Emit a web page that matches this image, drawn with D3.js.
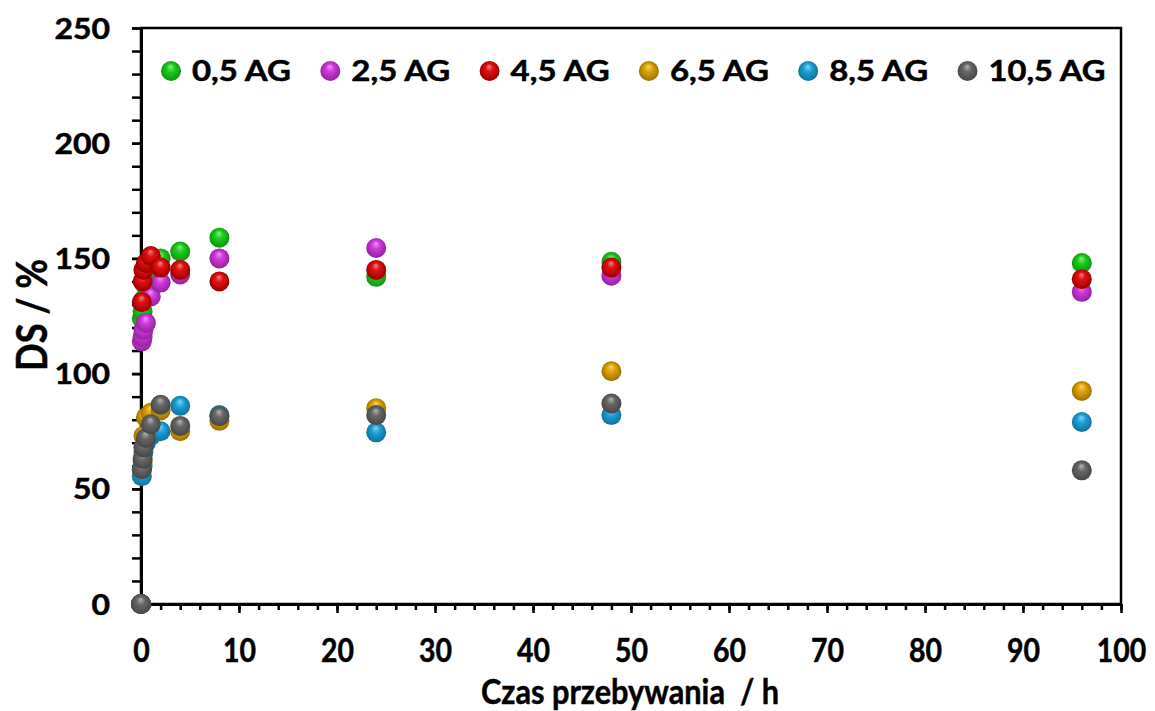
<!DOCTYPE html>
<html>
<head>
<meta charset="utf-8">
<script src="https://cdn.jsdelivr.net/npm/d3@7"></script>
<style>
  body { margin: 0; background: #fff; }
  svg { display: block; }
  text { font-family: Lato, "Open Sans", sans-serif; font-weight: 700; fill: #000; stroke: #000; stroke-width: 0.5px; }
</style>
</head>
<body>
<svg id="chart" width="1155" height="711"></svg>
<script>
// Sampling times (h) and DS (%) for each AG series
const times = [0, 0.083, 0.167, 0.25, 0.5, 1, 2, 4, 8, 24, 48, 96];
const seriesNames = ["0,5 AG", "2,5 AG", "4,5 AG", "6,5 AG", "8,5 AG", "10,5 AG"];
const ag05  = [0, 124, 127, 132, 138, 144, 150, 153, 159, 142, 148.5, 148];
const ag25  = [0, 114, 116, 119, 122, 133.5, 139.5, 143, 150, 154.5, 142.5, 135.5];
const ag45  = [0, 131, 140, 145, 148, 151, 146, 145, 140, 145, 146, 141];
const ag65  = [0, 58, 62, 73, 81, 83, 84, 75, 79.5, 85, 101, 92.5];
const ag85  = [0, 55.5, 60, 66, 70, 73, 75, 86, 82, 74.5, 82, 79];
const ag105 = [0, 58.5, 63, 68, 72, 78, 86.5, 77.3, 81.5, 82, 87, 58];
const seriesValues = [ag05, ag25, ag45, ag65, ag85, ag105];
const seriesColors = ["#19d019", "#d236e0", "#e00808", "#e0a400", "#1ba2dc", "#676767"];

const xTicks = [0, 10, 20, 30, 40, 50, 60, 70, 80, 90, 100];
const yTicks = [0, 50, 100, 150, 200, 250];
const xTitle = "Czas przebywania\u00a0 / h";
const yTitle = "DS / %";

const svg = d3.select("#chart");
const plotL = 141, plotR = 1121, plotT = 28, plotB = 604;

const x = d3.scaleLinear().domain([0, 100]).range([plotL, plotR]);
const y = d3.scaleLinear().domain([0, 250]).range([plotB, plotT]);

// Sphere-like shading for markers
const defs = svg.append("defs");
seriesColors.forEach((c, i) => {
  const base = d3.color(c);
  const g = defs.append("radialGradient")
    .attr("id", "sph" + i)
    .attr("cx", "50%").attr("cy", "50%").attr("r", "55%")
    .attr("fx", "48%").attr("fy", "26%");
  g.append("stop").attr("offset", "0%").attr("stop-color", d3.interpolateRgb(c, "#ffffff")(0.5));
  g.append("stop").attr("offset", "38%").attr("stop-color", base.formatHex());
  g.append("stop").attr("offset", "100%").attr("stop-color", base.darker(1.2).formatHex());
});
defs.append("filter").attr("id", "soft")
  .append("feGaussianBlur").attr("stdDeviation", 0.6);

// Frame
svg.append("rect")
  .attr("x", plotL).attr("y", plotT)
  .attr("width", plotR - plotL).attr("height", plotB - plotT)
  .attr("fill", "none").attr("stroke", "#000").attr("stroke-width", 2.5);

// X axis: minor ticks every 2 h, major every 10 h
const xMinor = d3.range(0, 101, 2);
svg.append("g")
  .attr("transform", `translate(0,${plotB})`)
  .call(d3.axisBottom(x).tickValues(xMinor).tickSize(6).tickFormat(""))
  .call(g => g.select(".domain").remove())
  .call(g => g.selectAll("line").attr("stroke-width", 2.5));

const xAxis = svg.append("g")
  .attr("transform", `translate(0,${plotB})`)
  .call(d3.axisBottom(x).tickValues(xTicks).tickSize(9).tickSizeOuter(0));
xAxis.select(".domain").attr("stroke-width", 3);
xAxis.selectAll("line").attr("stroke-width", 2.5);
xAxis.selectAll("text")
  .attr("y", 58).attr("dy", 0)
  .style("font-size", "32px")
  .attr("textLength", d => String(d).length * 16.5)
  .attr("lengthAdjust", "spacingAndGlyphs");

// Y axis: minor ticks every 10, major every 50
const yMinor = d3.range(0, 251, 10);
svg.append("g")
  .attr("transform", `translate(${plotL},0)`)
  .call(d3.axisLeft(y).tickValues(yMinor).tickSize(9).tickFormat(""))
  .call(g => g.select(".domain").remove())
  .call(g => g.selectAll("line").attr("stroke-width", 2.5));

const yAxis = svg.append("g")
  .attr("transform", `translate(${plotL},0)`)
  .call(d3.axisLeft(y).tickValues(yTicks).tickSize(9).tickSizeOuter(0).tickPadding(22));
yAxis.select(".domain").attr("stroke-width", 3);
yAxis.selectAll("line").attr("stroke-width", 2.5);
yAxis.selectAll("text")
  .attr("dy", "0.36em")
  .style("font-size", "28px")
  .attr("textLength", d => String(d).length * 18.5)
  .attr("lengthAdjust", "spacingAndGlyphs");
svg.selectAll(".tick text").attr("fill", "#000").attr("stroke", "#000");

// Axis titles
svg.append("text")
  .attr("x", 630).attr("y", 704)
  .attr("text-anchor", "middle")
  .style("font-size", "35px")
  .attr("textLength", 298).attr("lengthAdjust", "spacingAndGlyphs")
  .text(xTitle);

svg.append("text")
  .attr("transform", "translate(47,315) rotate(-90)")
  .attr("text-anchor", "middle")
  .style("font-size", "42px")
  .attr("textLength", 112).attr("lengthAdjust", "spacingAndGlyphs")
  .text(yTitle);

// Data points, drawn series by series
const pts = svg.append("g").attr("filter", "url(#soft)");
seriesValues.forEach((vals, i) => {
  pts.append("g").selectAll("circle")
    .data(vals.map((v, j) => ({ t: times[j], v })))
    .join("circle")
    .attr("cx", d => x(d.t))
    .attr("cy", d => y(d.v))
    .attr("r", 10)
    .attr("fill", `url(#sph${i})`);
});

// Legend
const legend = svg.append("g");
seriesNames.forEach((name, i) => {
  const lx = 171 + i * 159.3;
  legend.append("circle")
    .attr("cx", lx).attr("cy", 71).attr("r", 10)
    .attr("fill", `url(#sph${i})`).attr("filter", "url(#soft)");
  legend.append("text")
    .attr("x", lx + 21).attr("y", 81)
    .style("font-size", "29px")
    .attr("textLength", name.length === 7 ? 117 : 99)
    .attr("lengthAdjust", "spacingAndGlyphs")
    .text(name);
});
</script>
</body>
</html>
